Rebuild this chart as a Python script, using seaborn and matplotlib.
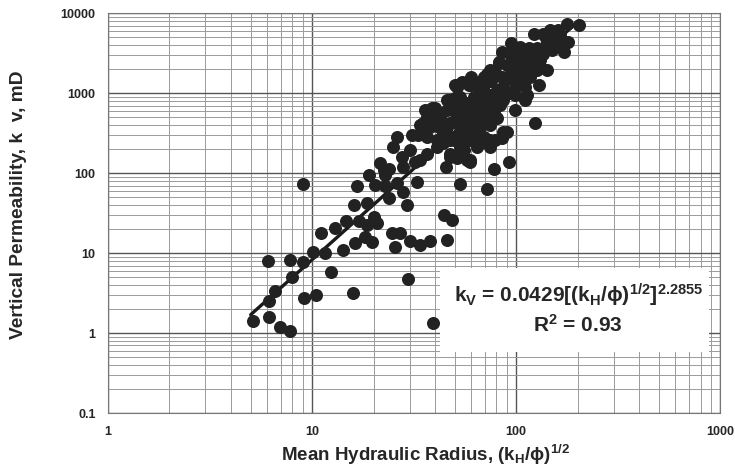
import matplotlib
matplotlib.use("Agg")
import matplotlib.pyplot as plt
import matplotlib.ticker as mticker
from matplotlib.patches import Rectangle
import numpy as np
import pandas as pd
import seaborn as sns

# ---- data ----
radius = [
    5.15, 6.15, 6.97, 7.83, 9.17, 10.5, 15.8, 12.4, 6.09, 7.83, 9.0, 8.0, 6.59, 6.18,
    10.1, 11.5, 14.2, 39.0, 29.5,
    9.06, 11.0, 13.0, 14.7, 16.1, 16.6, 16.2, 20.4, 22.8, 26.0, 32.8, 53.1, 71.8,
    18.5, 23.9, 28.0, 29.1, 16.9, 20.0, 20.9, 18.5, 44.4, 48.7, 18.2, 19.6, 24.6,
    26.8, 25.5, 30.0, 33.6, 37.6, 46.0,
    18.9, 21.5, 22.8, 26.0, 25.0, 45.4, 33.2, 36.5, 40.9, 30.2, 32.0, 28.0, 27.5,
    23.9, 22.4,
    121.6, 136, 161, 177, 202, 164, 180, 171, 150, 136, 126, 141, 152, 94.5, 85,
    93.5, 105, 115, 101, 113, 122, 131, 141, 126, 113, 105, 90, 82, 74.6, 71.8,
    80.4, 90, 99, 109, 117, 111, 129, 113, 99, 86.6, 80.4, 69.2, 54.2, 59.5, 50.2,
    53.1, 47.5, 61.8, 69.2, 77.4, 86.6, 74.6, 66.6, 59.5, 51.2, 45.7,
    124, 90, 91.7, 77.4, 59.5, 85, 74.6, 66.6, 59.5, 55.2,
    39.3, 37.9, 40.1, 45.7, 52.1, 58.4, 66.6, 71.8, 42.4, 45.7, 40.9, 36.5, 33.8,
    47.5, 53.1, 51.2, 59.5, 58.4, 64.2, 71.8, 61.8, 47.5, 53.1, 55.2, 61.8,
    43.9, 50.2, 56.2, 65.1, 74.6, 80.7, 83.5, 98.9, 110.7,
    38.6, 36.5, 37.9, 35.1, 35.8, 33.8, 37.0, 30.9,
    51.2, 51.2, 57.3, 64.2, 69.2, 81.9, 85.1, 97.0, 104.6, 146.8, 158.5, 158.5,
    131, 101, 74.6, 83.5, 69.2, 66.6, 57.3, 53.1, 49.3, 44.0, 47.5, 51.2, 59.5,
    69.2, 55.2, 69.2, 78.9, 86.6, 74.6, 64.2, 53.1, 57.3, 47.5,
    35, 48, 57, 66, 75, 88, 95, 110, 120, 140, 60, 50, 42, 46, 53, 62, 70, 78, 92, 100,
]
perm = [
    1.43, 1.60, 1.19, 1.06, 2.76, 2.99, 3.14, 5.79, 7.94, 8.18, 7.65, 5.06, 3.38, 2.53,
    10.4, 10.1, 10.9, 1.34, 4.73,
    72.9, 17.6, 20.4, 25.3, 39.8, 68.8, 13.4, 70.8, 68.8, 74.3, 77.9, 72.9, 62.5,
    42.5, 48.3, 58.4, 39.8, 25.3, 28.4, 23.5, 22.4, 29.9, 25.8, 16.0, 13.8, 17.6,
    17.9, 12.0, 14.3, 12.6, 14.3, 14.5,
    94.4, 132, 94.4, 284, 213, 120, 298, 284, 258, 194, 138, 120, 160,
    114, 109,
    5460, 5570, 6130, 7290, 7080, 5310, 4380, 3280, 3450, 3130, 3620, 4180, 4600, 4250, 3280,
    3130, 3280, 3620, 2590, 2720, 2350, 2590, 1940, 1940, 1850, 2040, 2240, 2350, 1940, 1530,
    1680, 1600, 1600, 1450, 1600, 1200, 1260, 944, 613, 1200, 1090, 1260, 1380, 1260, 1260,
    899, 818, 899, 899, 818, 818, 644, 613, 613, 613, 613,
    418, 328, 138, 114, 138, 272, 259, 235, 313, 194,
    438, 531, 644, 818, 1260, 1260, 1380, 1760, 483, 379, 213, 176, 145,
    160, 213, 153, 145, 259, 379, 557, 743, 259, 379, 557, 505,
    313, 460, 365, 944, 398, 487, 708, 944, 818,
    644, 505, 379, 345, 613, 398, 398, 298,
    1200, 818, 1380, 1260, 1600, 2460, 1600, 2990, 3790, 6130, 5060, 4180,
    2130, 1600, 944, 818, 557, 379, 418, 313, 259, 235, 418, 531, 674,
    859, 235, 284, 259, 328, 213, 213, 176, 145, 176,
    420, 640, 760, 720, 1400, 1450, 2000, 2700, 3000, 4900, 1600, 880, 380, 300, 270, 290, 430, 600, 1000, 1250,
]
coef_a = 0.0429
coef_b = 2.2855
fit_range = [5.0, 195.0]
x_ticks = [1, 10, 100, 1000]
x_ticklabels = ["1", "10", "100", "1000"]
y_ticks = [0.1, 1, 10, 100, 1000, 10000]
y_ticklabels = ["0.1", "1", "10", "100", "1000", "10000"]

df = pd.DataFrame({"radius": radius, "perm": perm})
xf = np.logspace(np.log10(fit_range[0]), np.log10(fit_range[1]), 100)
fit = pd.DataFrame({"radius": xf, "perm": coef_a * xf ** coef_b})

# ---- style ----
sns.set_style("white")
plt.rcParams["font.family"] = ["Liberation Sans", "DejaVu Sans"]
plt.rcParams["mathtext.fontset"] = "custom"
plt.rcParams["mathtext.rm"] = "Liberation Sans:bold"
plt.rcParams["mathtext.it"] = "Liberation Sans:bold"
plt.rcParams["mathtext.bf"] = "Liberation Sans:bold"
plt.rcParams["mathtext.sf"] = "Liberation Sans:bold"

fig = plt.figure(figsize=(7.35, 4.71), dpi=100)
ax = fig.add_axes([0.147, 0.123, 0.833, 0.849])
ax.set_xscale("log")
ax.set_yscale("log")
ax.set_xlim(1, 1000)
ax.set_ylim(0.1, 10000)

ax.set_axisbelow(True)
ax.grid(which="major", color="#555555", linewidth=1.0)
ax.grid(which="minor", color="#9a9a9a", linewidth=0.7)
ax.xaxis.set_minor_locator(mticker.LogLocator(base=10, subs=np.arange(2, 10)))
ax.yaxis.set_minor_locator(mticker.LogLocator(base=10, subs=np.arange(2, 10)))
ax.xaxis.set_minor_formatter(mticker.NullFormatter())
ax.yaxis.set_minor_formatter(mticker.NullFormatter())

ax.add_patch(Rectangle((0.542, 0.152), 0.44, 0.21, transform=ax.transAxes,
                       facecolor="white", edgecolor="none", zorder=1))

sns.lineplot(data=fit, x="radius", y="perm", ax=ax, color="#1a1a1a",
             linewidth=2.4, zorder=3)
sns.scatterplot(data=df, x="radius", y="perm", ax=ax, color="#222222",
                s=88, edgecolor="#222222", linewidth=0, zorder=4, legend=False)

ax.set_xticks(x_ticks)
ax.set_xticklabels(x_ticklabels, fontsize=9, fontweight="bold")
ax.set_yticks(y_ticks)
ax.set_yticklabels(y_ticklabels, fontsize=9, fontweight="bold")
ax.tick_params(which="both", length=0, pad=9)

for s in ax.spines.values():
    s.set_color("#777777")
    s.set_linewidth(0.8)

ax.set_xlabel(r"Mean Hydraulic Radius, (k$_{\rm H}$/$\phi$)$^{\rm 1/2}$",
              fontsize=13.5, fontweight="bold")
ax.xaxis.set_label_coords(0.518, -0.075)
ax.set_ylabel("Vertical Permeability, k  v, mD", fontsize=13.8, fontweight="bold")
ax.yaxis.set_label_coords(-0.133, 0.52)

ax.text(0.768, 0.295,
        r"k$_{\rm V}$ = 0.0429[(k$_{\rm H}$/$\phi$)$^{\rm 1/2}$]$^{\rm 2.2855}$",
        transform=ax.transAxes, ha="center", va="center", fontsize=15,
        fontweight="bold", zorder=5)
ax.text(0.768, 0.22, r"R$^{\rm 2}$ = 0.93",
        transform=ax.transAxes, ha="center", va="center", fontsize=15,
        fontweight="bold", zorder=5)

fig.savefig("out.png", dpi=100)
